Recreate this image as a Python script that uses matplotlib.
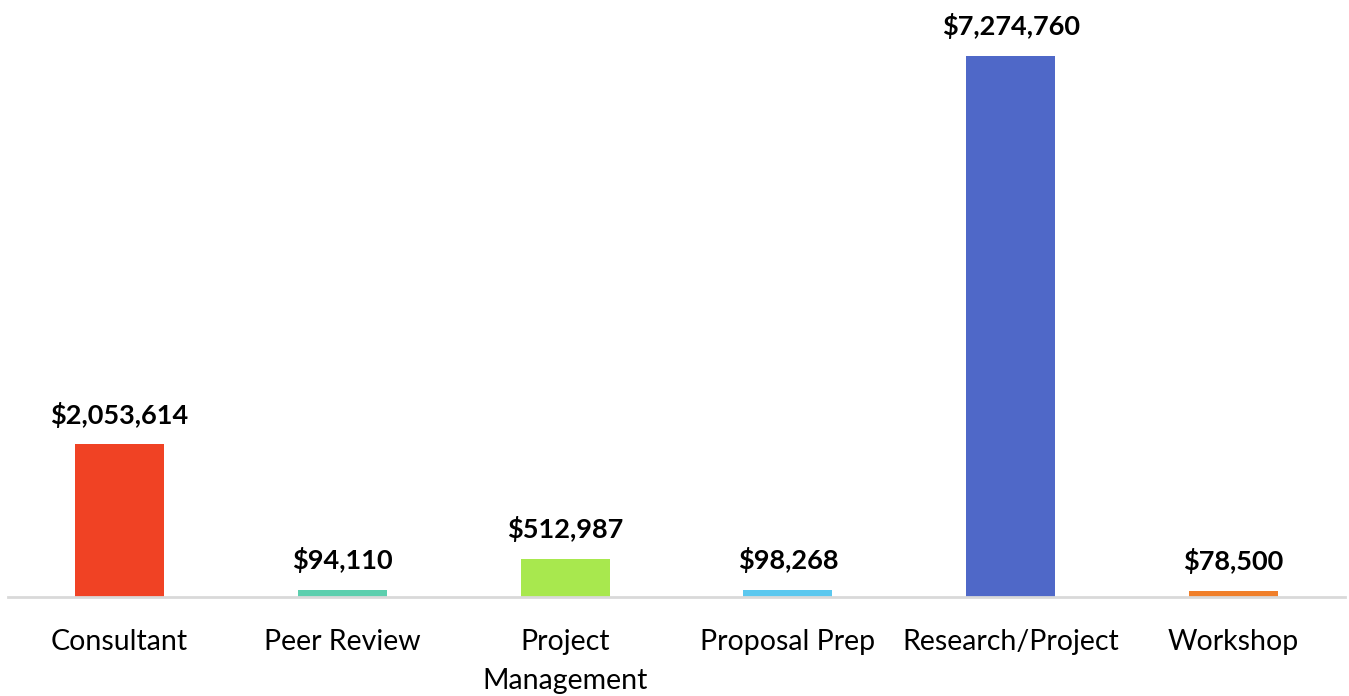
import matplotlib
matplotlib.use("Agg")
import matplotlib.pyplot as plt

# ------------------------------
# Data
categories = ["Consultant", "Peer Review", "Project\nManagement", "Proposal Prep",
              "Research/Project", "Workshop"]
amounts = [2053614, 94110, 512987, 98268, 7274760, 78500]
colors = ["#F04224", "#5CCFAE", "#A8E84E", "#5BC8EF", "#4F68C8", "#F07F2A"]

plt.rcParams['font.family'] = ['Lato', 'DejaVu Sans']

# ------------------------------
# Plot
W, H = 1349, 696
fig = plt.figure(figsize=(W / 100, H / 100), dpi=100)
# axes box in pixels: left 8, right 1345, baseline at y=597, top at y=20
left, right, base, top = 8, 1345, 597, 20
ax = fig.add_axes([left / W, (H - base) / H, (right - left) / W, (base - top) / H])

x = range(len(categories))
ax.bar(x, amounts, width=0.40, color=colors, zorder=2)
ax.set_xlim(-0.5, len(categories) - 0.5)
ax.set_ylim(0, amounts[4] * (base - top) / (base - 56))

for i, v in enumerate(amounts):
    ax.annotate(f"${v:,}", (i, v), xytext=(0, 12), textcoords="offset points",
                ha="center", va="bottom", fontsize=19.5, fontweight="bold", color="black")

ax.set_xticks(list(x))
ax.set_xticklabels(categories, fontsize=20.5, linespacing=1.62, va="top")
ax.tick_params(axis="x", length=0, pad=23)
ax.set_yticks([])
for s in ["top", "right", "left"]:
    ax.spines[s].set_visible(False)
ax.spines["bottom"].set_color("#d9d9d9")
ax.spines["bottom"].set_linewidth(2)
ax.spines["bottom"].set_zorder(3)

fig.savefig("out.png", dpi=100)
